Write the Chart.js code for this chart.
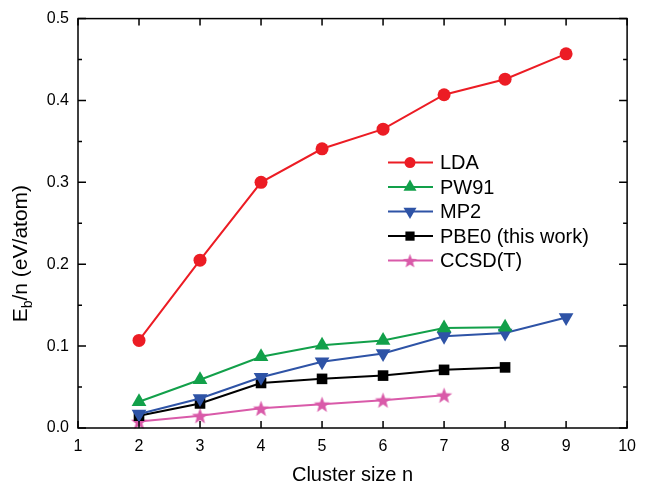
<!DOCTYPE html>
<html>
<head>
<meta charset="utf-8">
<script src="https://cdn.jsdelivr.net/npm/chart.js@4.4.0/dist/chart.umd.min.js"></script>
<style>
  html, body { margin: 0; padding: 0; background: #fff; }
  canvas { display: block; }
</style>
</head>
<body>
<canvas id="myChart" width="645" height="485"></canvas>
<script>
// cluster sizes and binding energy per atom (eV/atom)
const seriesNames = ["LDA", "PW91", "MP2", "PBE0 (this work)", "CCSD(T)"];
const sizesLDA = [2, 3, 4, 5, 6, 7, 8, 9];
const valuesLDA = [0.107, 0.205, 0.300, 0.341, 0.365, 0.407, 0.426, 0.457];
const sizesPW91 = [2, 3, 4, 5, 6, 7, 8];
const valuesPW91 = [0.032, 0.059, 0.087, 0.101, 0.107, 0.122, 0.123];
const sizesMP2 = [2, 3, 4, 5, 6, 7, 8, 9];
const valuesMP2 = [0.017, 0.036, 0.062, 0.081, 0.091, 0.112, 0.116, 0.135];
const sizesPBE0 = [2, 3, 4, 5, 6, 7, 8];
const valuesPBE0 = [0.015, 0.030, 0.055, 0.060, 0.064, 0.071, 0.074];
const sizesCCSD = [2, 3, 4, 5, 6, 7];
const valuesCCSD = [0.008, 0.015, 0.024, 0.029, 0.034, 0.040];
const xTicks = [1, 2, 3, 4, 5, 6, 7, 8, 9, 10];
const yTicks = [0.0, 0.1, 0.2, 0.3, 0.4, 0.5];

const colors = ["#ec1c24", "#12a04a", "#2e53a6", "#000000", "#d95aa9"];
const FONT = "'Liberation Sans', Arial, sans-serif";

const toPoints = (xs, ys) => xs.map((x, i) => ({ x: x, y: ys[i] }));

// filled 5 point star for CCSD(T)
const makeStar = (color, r) => {
  const c = document.createElement("canvas");
  c.width = c.height = Math.ceil(r * 2) + 2;
  const g = c.getContext("2d");
  const cx = c.width / 2, cy = c.height / 2;
  g.beginPath();
  for (let k = 0; k < 10; k++) {
    const rad = k % 2 === 0 ? r : r * 0.42;
    const a = -Math.PI / 2 + k * Math.PI / 5;
    g.lineTo(cx + rad * Math.cos(a), cy + rad * Math.sin(a) + 0.8);
  }
  g.closePath();
  g.fillStyle = color;
  g.fill();
  return c;
};
const star = makeStar(colors[4], 8.5);
const starSmall = makeStar(colors[4], 7.5);

const mkSet = (i, xs, ys, style, radius, rotation) => ({
  label: seriesNames[i],
  data: toPoints(xs, ys),
  borderColor: colors[i],
  backgroundColor: colors[i],
  pointBackgroundColor: colors[i],
  pointBorderWidth: 0,
  pointStyle: style,
  pointRadius: radius,
  pointRotation: rotation || 0,
  borderWidth: 2,
  tension: 0,
  clip: false
});

const datasets = [
  mkSet(0, sizesLDA, valuesLDA, "circle", 6.5),
  mkSet(1, sizesPW91, valuesPW91, "triangle", 8.5),
  mkSet(2, sizesMP2, valuesMP2, "triangle", 8.5, 180),
  mkSet(3, sizesPBE0, valuesPBE0, "rect", 7.5),
  mkSet(4, sizesCCSD, valuesCCSD, star, 8.5)
];

// frame with inward ticks on all four sides
const frame = {
  id: "frame",
  afterDraw(chart) {
    const { ctx, chartArea: a, scales } = chart;
    ctx.save();
    ctx.strokeStyle = "#000";
    ctx.lineWidth = 1.5;
    ctx.strokeRect(a.left, a.top, a.right - a.left, a.bottom - a.top);
    ctx.beginPath();
    xTicks.forEach(v => {
      const px = scales.x.getPixelForValue(v);
      ctx.moveTo(px, a.bottom); ctx.lineTo(px, a.bottom - 7);
      ctx.moveTo(px, a.top); ctx.lineTo(px, a.top + 7);
    });
    yTicks.forEach((v, i) => {
      const py = scales.y.getPixelForValue(v);
      ctx.moveTo(a.left, py); ctx.lineTo(a.left + 8, py);
      ctx.moveTo(a.right, py); ctx.lineTo(a.right - 8, py);
      if (i < yTicks.length - 1) {
        const pm = scales.y.getPixelForValue((v + yTicks[i + 1]) / 2);
        ctx.moveTo(a.left, pm); ctx.lineTo(a.left + 4, pm);
        ctx.moveTo(a.right, pm); ctx.lineTo(a.right - 4, pm);
      }
    });
    ctx.stroke();

    // axis titles
    ctx.fillStyle = "#000";
    ctx.font = "20px " + FONT;
    ctx.textAlign = "center";
    ctx.textBaseline = "middle";
    ctx.fillText("Cluster size n", (a.left + a.right) / 2, a.bottom + 47);

    ctx.translate(21, a.top + 235);
    ctx.rotate(-Math.PI / 2);
    ctx.textAlign = "left";
    ctx.textBaseline = "middle";
    const big = "21px " + FONT, small = "14px " + FONT;
    ctx.font = big;
    const w1 = ctx.measureText("E").width;
    const rest = "/n (eV/atom)";
    const w3 = ctx.measureText(rest).width;
    ctx.font = small;
    const w2 = ctx.measureText("b").width;
    let x = -(w1 + w2 + w3) / 2;
    ctx.font = big;
    ctx.fillText("E", x, 0);
    x += w1;
    ctx.font = small;
    ctx.fillText("b", x, 7);
    x += w2;
    ctx.font = big;
    ctx.fillText(rest, x, 0);
    ctx.restore();
  }
};

// legend with line-marker-line samples
const legendBox = {
  id: "legendBox",
  afterDraw(chart) {
    const { ctx, chartArea: a } = chart;
    const x0 = a.left + 310, y0 = a.top + 144;
    chart.data.datasets.forEach((ds, i) => {
      const y = y0 + i * 24.5;
      ctx.save();
      ctx.strokeStyle = ds.borderColor;
      ctx.lineWidth = 2;
      ctx.beginPath();
      ctx.moveTo(x0, y);
      ctx.lineTo(x0 + 45, y);
      ctx.stroke();
      ctx.fillStyle = ds.pointBackgroundColor;
      const style = ds.pointStyle === star ? starSmall : ds.pointStyle;
      Chart.helpers.drawPoint(ctx, {
        pointStyle: style,
        radius: ds.pointRadius - 1,
        rotation: ds.pointRotation,
        borderWidth: 0
      }, x0 + 22, y);
      ctx.fillStyle = "#000";
      ctx.font = "20px " + FONT;
      ctx.textAlign = "left";
      ctx.textBaseline = "middle";
      ctx.fillText(ds.label, x0 + 52, y + 1);
      ctx.restore();
    });
  }
};

Chart.defaults.font.family = FONT;
Chart.defaults.color = "#000";

new Chart("myChart", {
  type: "line",
  data: { datasets: datasets },
  options: {
    responsive: false,
    animation: false,
    devicePixelRatio: 1,
    layout: { padding: { top: 17, right: 12, left: 0, bottom: 0 } },
    plugins: { legend: { display: false }, tooltip: { enabled: false } },
    scales: {
      x: {
        type: "linear",
        min: xTicks[0],
        max: xTicks[xTicks.length - 1],
        afterBuildTicks: (s) => { s.ticks = xTicks.map(v => ({ value: v })); },
        afterFit: (s) => { s.height = 57; },
        ticks: { font: { size: 16 }, padding: 9, maxRotation: 0 },
        grid: { display: false, drawTicks: false },
        border: { display: false }
      },
      y: {
        type: "linear",
        min: yTicks[0],
        max: yTicks[yTicks.length - 1],
        afterBuildTicks: (s) => { s.ticks = yTicks.map(v => ({ value: v })); },
        afterFit: (s) => { s.width = 78; },
        ticks: { font: { size: 16 }, padding: 9, callback: (v) => Number(v).toFixed(1) },
        grid: { display: false, drawTicks: false },
        border: { display: false }
      }
    }
  },
  plugins: [frame, legendBox]
});
</script>
</body>
</html>
